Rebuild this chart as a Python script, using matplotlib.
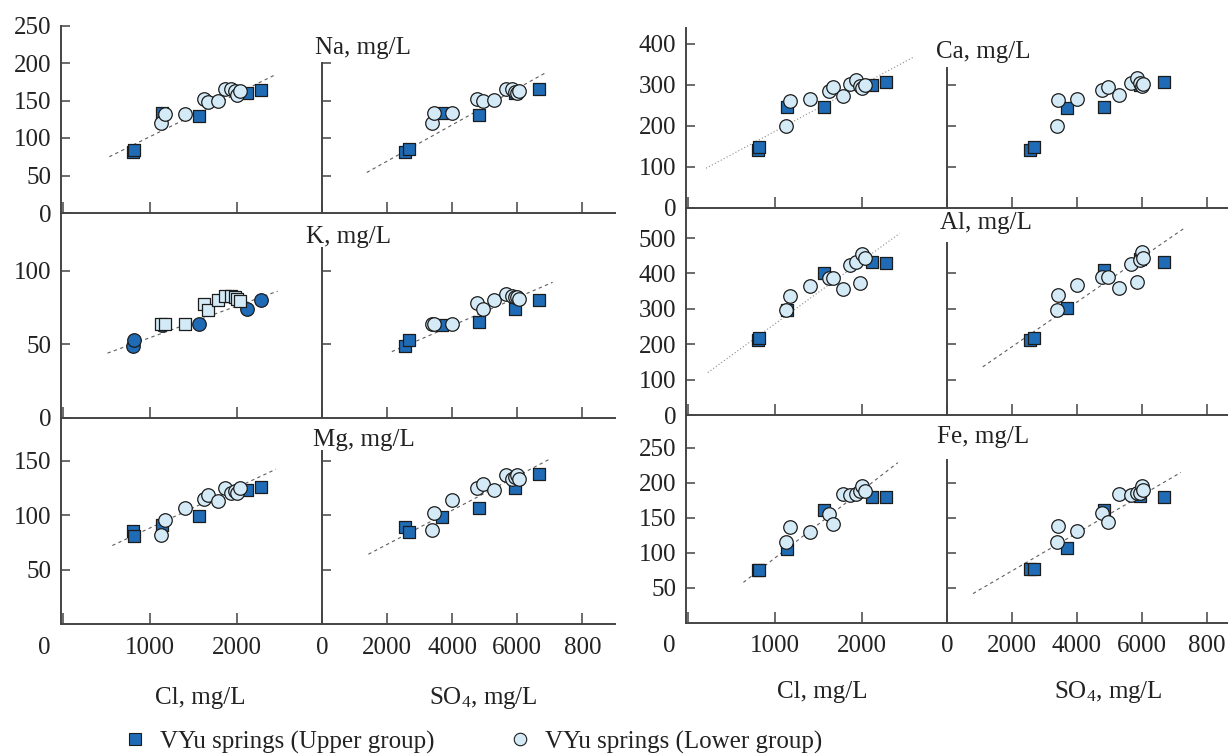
import matplotlib

matplotlib.use("Agg")
import matplotlib.pyplot as plt
from matplotlib.lines import Line2D

plt.rcParams["font.family"] = ["Liberation Serif", "DejaVu Serif"]
plt.rcParams["mathtext.default"] = "regular"

# --- data ---------------------------------------------------------------
# shared x values (same springs in every row)
cl_upper = [800, 815, 1140, 1565, 2110, 2275]
so4_upper = [2550, 2680, 3700, 4830, 5940, 6680]
cl_lower = [1130, 1175, 1405, 1620, 1670, 1775, 1855, 1930, 1970, 2000, 2030]
so4_lower = [3380, 3430, 3990, 4760, 4945, 5290, 5660, 5850, 5930, 5990, 6040]

na_cl_upper = [81, 84, 133, 130, 160, 164]
na_cl_lower = [120, 132, 132, 152, 148, 150, 166, 165, 163, 158, 163]
na_so4_upper = [82, 85, 133, 131, 160, 165]
na_so4_lower = [120, 133, 134, 152, 150, 151, 166, 165, 162, 160, 163]

k_cl_upper = [49, 53, 63, 64, 74, 80]
k_cl_lower = [64, 64, 64, 77, 73, 80, 83, 83, 82, 81, 79]
k_so4_upper = [49, 53, 63, 65, 74, 80]
k_so4_lower = [64, 64, 64, 78, 74, 80, 84, 83, 82, 82, 81]

mg_cl_upper = [85, 81, 91, 99, 123, 126]
mg_cl_lower = [82, 95, 106, 115, 118, 113, 125, 120, 122, 120, 125]
mg_so4_upper = [89, 84, 98, 106, 125, 138]
mg_so4_lower = [86, 102, 114, 125, 128, 123, 137, 133, 135, 137, 133]

ca_cl_upper = [142, 148, 246, 246, 300, 308]
ca_cl_lower = [200, 262, 265, 286, 296, 274, 302, 312, 297, 292, 300]
ca_so4_upper = [142, 148, 245, 247, 300, 308]
ca_so4_lower = [201, 263, 266, 288, 296, 276, 304, 316, 304, 298, 302]

al_cl_upper = [212, 218, 297, 402, 433, 429]
al_cl_lower = [297, 336, 364, 386, 386, 356, 424, 431, 374, 455, 443]
al_so4_upper = [212, 217, 301, 410, 440, 433]
al_so4_lower = [298, 339, 367, 389, 389, 360, 428, 377, 438, 460, 445]

fe_cl_upper = [75, 76, 105, 162, 180, 180]
fe_cl_lower = [115, 137, 130, 156, 142, 184, 183, 184, 188, 195, 188]
fe_so4_upper = [77, 77, 107, 162, 182, 180]
fe_so4_lower = [116, 139, 131, 157, 144, 184, 183, 185, 186, 195, 190]

# trend line end points (x, y)
na_cl_fit = [(530, 75), (2450, 185)]
na_so4_fit = [(1375, 54), (6910, 188)]
k_cl_fit = [(510, 44), (2465, 86)]
k_so4_fit = [(2145, 45), (7085, 92)]
mg_cl_fit = [(565, 72), (2445, 142)]
mg_so4_fit = [(1425, 64), (7040, 152)]
ca_cl_fit = [(205, 97), (2600, 369)]
al_cl_fit = [(225, 120), (2430, 513)]
al_so4_fit = [(1100, 136), (7290, 527)]
fe_cl_fit = [(635, 58), (2410, 229)]
fe_so4_fit = [(800, 42), (7200, 215)]

cl_ticks = [0, 1000, 2000]
cl_ticklabels = ["", "1000", "2000"]
so4_ticks = [0, 2000, 4000, 6000, 8000]
so4_ticklabels = ["0", "2000", "4000", "6000", "800"]
legend_labels = ["VYu springs (Upper group)", "VYu springs (Lower group)"]

series = {
    "Na": dict(cl=(na_cl_upper, na_cl_lower), so4=(na_so4_upper, na_so4_lower),
               cl_fit=na_cl_fit, so4_fit=na_so4_fit),
    "K": dict(cl=(k_cl_upper, k_cl_lower), so4=(k_so4_upper, k_so4_lower),
              cl_fit=k_cl_fit, so4_fit=k_so4_fit),
    "Mg": dict(cl=(mg_cl_upper, mg_cl_lower), so4=(mg_so4_upper, mg_so4_lower),
               cl_fit=mg_cl_fit, so4_fit=mg_so4_fit),
    "Ca": dict(cl=(ca_cl_upper, ca_cl_lower), so4=(ca_so4_upper, ca_so4_lower),
               cl_fit=ca_cl_fit, so4_fit=None),
    "Al": dict(cl=(al_cl_upper, al_cl_lower), so4=(al_so4_upper, al_so4_lower),
               cl_fit=al_cl_fit, so4_fit=al_so4_fit),
    "Fe": dict(cl=(fe_cl_upper, fe_cl_lower), so4=(fe_so4_upper, fe_so4_lower),
               cl_fit=fe_cl_fit, so4_fit=fe_so4_fit),
}

# --- layout (pixels of a 1228x756 canvas) --------------------------------
W, H = 1228, 756
blocks = {
    "left": dict(cl=(61, 322), so4=(322, 615), so4_xmax=9000),
    "right": dict(cl=(686, 947), so4=(947, 1228), so4_xmax=8650),
}
layout = [
    dict(el="Na", block="left", top=25.5, bottom=213, ymax=250,
         yticks=[0, 50, 100, 150, 200, 250], so4_top=200, so4_yticks=[50, 100, 150, 200],
         title=(-7, 220), last=False),
    dict(el="K", block="left", top=213, bottom=418, ymax=139,
         yticks=[0, 50, 100], so4_top=115, so4_yticks=[50, 100],
         title=(-16, 123), last=False),
    dict(el="Mg", block="left", top=418, bottom=624, ymax=189,
         yticks=[50, 100, 150], so4_top=159, so4_yticks=[50, 100, 150],
         title=(-9, 169), last=True),
    dict(el="Ca", block="right", top=28, bottom=208, ymax=439,
         yticks=[0, 100, 200, 300, 400], so4_top=341, so4_yticks=[100, 200, 300],
         title=(-11, 380), last=False),
    dict(el="Al", block="right", top=208, bottom=415, ymax=585,
         yticks=[0, 100, 200, 300, 400, 500], so4_top=486, so4_yticks=[100, 200, 300, 400],
         title=(-7, 542), last=False),
    dict(el="Fe", block="right", top=415, bottom=623, ymax=297,
         yticks=[50, 100, 150, 200, 250], so4_top=233, so4_yticks=[50, 100, 150, 200],
         title=(-10, 266), last=True),
]

DARK = "#1f6bb5"
LIGHT = "#d4eaf7"
EDGE = "#1c1c1c"
AXIS = "#444444"
TEXT = "#222222"
FS = 18
XPAD = 9
PX = 72 / 100  # points per pixel


def rect(x0, y0, x1, y1):
    return [x0 / W, 1 - y1 / H, (x1 - x0) / W, (y1 - y0) / H]


def style(ax):
    ax.set_facecolor("none")
    for side in ("top", "right"):
        ax.spines[side].set_visible(False)
    for side in ("left", "bottom"):
        ax.spines[side].set_color(AXIS)
        ax.spines[side].set_linewidth(1.4)
    ax.tick_params(axis="x", direction="in", length=8, width=1.1, color=AXIS,
                   labelsize=FS, labelcolor=TEXT, pad=XPAD)
    ax.tick_params(axis="y", direction="in", length=6.5, width=1.1, color=AXIS,
                   labelsize=FS, labelcolor=TEXT, pad=7)


def draw_fit(ax, fit, dotted=False):
    if fit is None:
        return
    xs = [p[0] for p in fit]
    ys = [p[1] for p in fit]
    if dotted:
        ax.plot(xs, ys, color="#8a8a8a", lw=0.8, dashes=(1, 2), zorder=1)
    else:
        ax.plot(xs, ys, color="#5e5e5e", lw=0.8, dashes=(3, 3), zorder=1)


def draw_points(ax, xu, yu, xl, yl, swap=False):
    up_marker, lo_marker = ("o", "s") if swap else ("s", "o")
    sizes = {"s": 72, "o": 95}
    ax.scatter(xu, yu, marker=up_marker, s=sizes[up_marker], c=DARK,
               edgecolors=EDGE, linewidths=0.9, zorder=3)
    ax.scatter(xl, yl, marker=lo_marker, s=sizes[lo_marker], c=LIGHT,
               edgecolors=EDGE, linewidths=0.9, zorder=4)


fig = plt.figure(figsize=(W / 100, H / 100), dpi=100)

for row in layout:
    b = blocks[row["block"]]
    data = series[row["el"]]
    ax_cl = fig.add_axes(rect(b["cl"][0], row["top"], b["cl"][1], row["bottom"]))
    ax_so = fig.add_axes(rect(b["so4"][0], row["top"], b["so4"][1], row["bottom"]))
    for ax in (ax_cl, ax_so):
        style(ax)
        ax.set_ylim(0, row["ymax"])

    ax_cl.set_xlim(-25, 2975)
    ax_so.set_xlim(0, b["so4_xmax"])

    ax_cl.set_yticks(row["yticks"])
    ax_so.set_yticks(row["so4_yticks"])
    ax_so.tick_params(labelleft=False)
    ax_so.spines["left"].set_bounds(0, row["so4_top"])

    ax_cl.set_xticks(cl_ticks)
    ax_so.set_xticks(so4_ticks)
    if row["last"]:
        ax_cl.set_xticklabels(cl_ticklabels)
        ax_so.set_xticklabels(so4_ticklabels)
        # the Cl "0" sits a little left of the axis corner in the original
        ax_cl.annotate("0", xy=(0, 0), xycoords="data", xytext=(-19 * PX, -XPAD),
                       textcoords="offset points", ha="center", va="top",
                       fontsize=FS, color=TEXT, annotation_clip=False)
    else:
        ax_cl.tick_params(labelbottom=False)
        ax_so.tick_params(labelbottom=False)

    draw_fit(ax_cl, data["cl_fit"], dotted=row["el"] in ("Ca", "Al"))
    draw_fit(ax_so, data["so4_fit"])

    swap = row["el"] == "K"
    draw_points(ax_cl, cl_upper, data["cl"][0], cl_lower, data["cl"][1], swap=swap)
    draw_points(ax_so, so4_upper, data["so4"][0], so4_lower, data["so4"][1])

    dx, ty = row["title"]
    ax_so.annotate(f"{row['el']}, mg/L", xy=(0, ty), xycoords="data",
                   xytext=(dx * PX, 0), textcoords="offset points",
                   ha="left", va="center", fontsize=FS, color=TEXT,
                   annotation_clip=False)

# axis titles
fig.text(200 / W, 1 - 698 / H, "Cl, mg/L", ha="center", va="center", fontsize=FS, color=TEXT)
fig.text(483 / W, 1 - 698 / H, r"SO$_4$, mg/L", ha="center", va="center", fontsize=FS, color=TEXT)
fig.text(822 / W, 1 - 692 / H, "Cl, mg/L", ha="center", va="center", fontsize=FS, color=TEXT)
fig.text(1108 / W, 1 - 692 / H, r"SO$_4$, mg/L", ha="center", va="center", fontsize=FS, color=TEXT)

# legend
h_up = Line2D([], [], ls="none", marker="s", markersize=8, mfc=DARK, mec=EDGE, mew=0.8)
h_lo = Line2D([], [], ls="none", marker="o", markersize=9, mfc=LIGHT, mec=EDGE, mew=0.8)
for handle, label, x0 in ((h_up, legend_labels[0], 122.5), (h_lo, legend_labels[1], 507.5)):
    fig.legend(handles=[handle], labels=[label], loc="center left",
               bbox_to_anchor=(x0 / W, 1 - 742 / H), frameon=False,
               handlelength=1.0, handletextpad=0.5, borderpad=0, borderaxespad=0,
               fontsize=FS, labelcolor=TEXT)

fig.savefig("out.png", dpi=100)
